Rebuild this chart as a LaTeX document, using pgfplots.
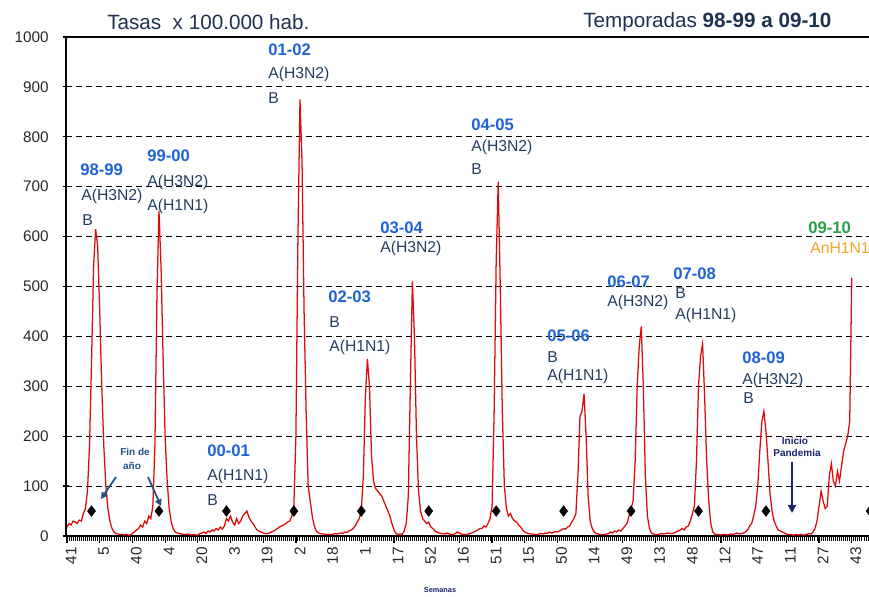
\documentclass[border=0pt]{standalone}
\usepackage{pgfplots}
\pgfplotsset{compat=1.18}
\usepackage{pgfplotstable}
\usepackage{fontspec}
\setmainfont{Liberation Sans}
\usetikzlibrary{arrows.meta}
\definecolor{redline}{RGB}{222,10,10}
\definecolor{seasonblue}{RGB}{30,99,214}
\definecolor{strain}{RGB}{35,60,95}
\definecolor{titlec}{RGB}{30,50,80}
\definecolor{greenlbl}{RGB}{40,160,70}
\definecolor{orangelbl}{RGB}{240,165,40}
\definecolor{arrowc}{RGB}{30,80,130}
\definecolor{navyc}{RGB}{25,35,110}
\definecolor{ticklab}{RGB}{40,40,40}

\pgfplotstableread{
i v
0 18
1 25
2 22
3 30
4 28
5 25
6 32
7 30
8 45
9 55
10 90
11 180
12 350
13 540
14 615
15 580
16 450
17 300
18 180
19 100
20 55
21 30
22 15
23 8
24 5
25 4
26 3
27 3
28 2
29 3
30 2
31 2
32 5
33 8
34 12
35 15
36 22
37 18
38 30
39 25
40 40
41 35
42 60
43 180
44 480
45 652
46 540
47 360
48 200
49 110
50 55
51 28
52 14
53 8
54 6
55 5
56 4
57 3
58 3
59 4
60 3
61 2
62 3
63 2
64 2
65 5
66 6
67 8
68 5
69 10
70 8
71 12
72 10
73 15
74 12
75 18
76 14
77 20
78 35
79 30
80 40
81 28
82 22
83 35
84 25
85 30
86 40
87 45
88 50
89 38
90 30
91 25
92 18
93 12
94 10
95 8
96 6
97 5
98 5
99 6
100 8
101 10
102 12
103 15
104 18
105 20
106 22
107 25
108 28
109 30
110 40
111 60
112 200
113 600
114 875
115 750
116 450
117 250
118 100
119 70
120 40
121 20
122 10
123 6
124 5
125 4
126 4
127 3
128 3
129 3
130 3
131 5
132 4
133 5
134 6
135 5
136 8
137 7
138 10
139 12
140 15
141 20
142 28
143 35
144 50
145 120
146 280
147 355
148 300
149 160
150 110
151 95
152 90
153 85
154 80
155 70
156 60
157 50
158 40
159 25
160 12
161 5
162 3
163 4
164 3
165 10
166 25
167 80
168 300
169 510
170 400
171 200
172 90
173 50
174 35
175 30
176 25
177 28
178 18
179 15
180 10
181 8
182 6
183 5
184 5
185 4
186 6
187 4
188 3
189 3
190 5
191 8
192 6
193 4
194 3
195 3
196 3
197 5
198 6
199 8
200 10
201 12
202 15
203 15
204 20
205 18
206 25
207 35
208 60
209 250
210 550
211 710
212 500
213 250
214 100
215 55
216 40
217 45
218 35
219 30
220 28
221 22
222 18
223 12
224 8
225 6
226 5
227 4
228 4
229 3
230 3
231 4
232 5
233 4
234 6
235 5
236 8
237 6
238 7
239 9
240 8
241 10
242 12
243 15
244 14
245 18
246 20
247 28
248 35
249 45
250 120
251 240
252 250
253 285
254 200
255 80
256 30
257 15
258 8
259 5
260 4
261 3
262 3
263 3
264 4
265 5
266 8
267 6
268 10
269 8
270 12
271 10
272 15
273 20
274 25
275 40
276 55
277 70
278 150
279 300
280 380
281 420
282 300
283 120
284 40
285 15
286 6
287 4
288 3
289 3
290 4
291 5
292 4
293 5
294 6
295 5
296 5
297 6
298 8
299 10
300 12
301 15
302 12
303 18
304 20
305 30
306 45
307 60
308 150
309 300
310 360
311 385
312 280
313 150
314 70
315 25
316 8
317 4
318 3
319 3
320 2
321 3
322 3
323 2
324 3
325 4
326 3
327 5
328 6
329 4
330 5
331 6
332 8
333 12
334 20
335 25
336 40
337 60
338 100
339 170
340 230
341 250
342 210
343 150
344 85
345 50
346 30
347 20
348 12
349 10
350 8
351 6
352 4
353 3
354 3
355 2
356 2
357 3
358 2
359 3
360 2
361 2
362 3
363 5
364 4
365 8
366 15
367 30
368 60
369 90
370 70
371 55
372 60
373 120
374 145
375 110
376 100
377 130
378 110
379 140
380 170
381 185
382 200
383 230
384 518
}\datatable

\pgfplotstableread{
i v
12 50
45 50
78 50
111 50
144 50
177 50
210 50
243 50
276 50
309 50
342 50
393 50
}\diamonds

\newcommand{\seasonlbl}[3]{\node[anchor=west,inner sep=0pt,font=\fontsize{12.5}{14}\selectfont\bfseries,text=seasonblue] at (#1,#2) {#3};}
\newcommand{\strainlbl}[3]{\node[anchor=west,inner sep=0pt,font=\fontsize{11.8}{14}\selectfont,text=strain] at (#1,#2) {#3};}

\begin{document}
\begin{tikzpicture}
\begin{axis}[
  at={(49.5pt,45.75pt)}, anchor=south west,
  scale only axis,
  width=604.5pt, height=374.25pt,
  xmin=-0.5, xmax=393.9,
  ymin=0, ymax=1000,
  xtick={0,16,...,384},
  xticklabels={41,5,40,4,20,3,19,2,18,1,17,52,16,51,15,50,14,49,13,48,12,47,11,27,43},
  minor xtick={0,1,...,393},
  ytick={0,100,...,1000},
  tick pos=left,
  xtick align=outside,
  ytick align=center,
  major tick length=5pt,
  minor tick length=3.5pt,
  every tick/.style={black, line width=0.9pt},
  every minor tick/.style={black, line width=0.75pt},
  axis line style={black, line width=1pt},
  ymajorgrids,
  grid style={black, line width=0.85pt, dash pattern=on 4.5pt off 3pt},
  /pgf/number format/1000 sep={},
  /pgf/number format/assume math mode=true,
  yticklabel style={font=\fontsize{11.5}{13}\selectfont, text=ticklab, xshift=-7pt},
  xticklabel style={rotate=90, anchor=east, font=\fontsize{11.5}{13}\selectfont, text=ticklab, yshift=-3pt},
]
\addplot[redline, line width=0.95pt, no marks] table[x=i, y=v] {\datatable};
\addplot[only marks, mark=diamond*, mark size=4pt, mark options={black, fill=black}] table[x=i, y=v] {\diamonds};
\end{axis}

\begin{scope}[x=0.75pt,y=-0.75pt,yshift=447.75pt]
\node[anchor=west, inner sep=0pt, font=\fontsize{15.5}{18}\selectfont, text=titlec] at (107,22) {Tasas\ \ x 100.000 hab.};
\node[anchor=west, inner sep=0pt, font=\fontsize{15.5}{18}\selectfont, text=titlec] at (583,22) {Temporadas \textbf{98-99 a 09-10}};

\seasonlbl{80}{170}{98-99}
\strainlbl{81}{196}{A(H3N2)}
\strainlbl{82}{220}{B}
\seasonlbl{147}{156}{99-00}
\strainlbl{147}{182}{A(H3N2)}
\strainlbl{147}{206}{A(H1N1)}
\seasonlbl{207}{451}{00-01}
\strainlbl{207}{476}{A(H1N1)}
\strainlbl{207}{500}{B}
\seasonlbl{268}{50}{01-02}
\strainlbl{268}{74}{A(H3N2)}
\strainlbl{268}{98}{B}
\seasonlbl{328}{297}{02-03}
\strainlbl{329}{322}{B}
\strainlbl{329}{347}{A(H1N1)}
\seasonlbl{380}{228}{03-04}
\strainlbl{380}{248}{A(H3N2)}
\seasonlbl{471}{125}{04-05}
\strainlbl{471}{147}{A(H3N2)}
\strainlbl{471}{169}{B}
\seasonlbl{547}{336}{05-06}
\strainlbl{547}{357}{B}
\strainlbl{547}{376}{A(H1N1)}
\seasonlbl{607}{282}{06-07}
\strainlbl{607}{302}{A(H3N2)}
\seasonlbl{673}{274}{07-08}
\strainlbl{675}{293}{B}
\strainlbl{675}{315}{A(H1N1)}
\seasonlbl{742}{358}{08-09}
\strainlbl{742}{380}{A(H3N2)}
\strainlbl{743}{398}{B}
\node[anchor=west,inner sep=0pt,font=\fontsize{12.5}{14}\selectfont\bfseries,text=greenlbl] at (808,228) {09-10};
\node[anchor=west,inner sep=0pt,font=\fontsize{11.8}{14}\selectfont,text=orangelbl] at (810,248) {AnH1N1};

\node[inner sep=0pt, font=\fontsize{7.5}{8}\selectfont\bfseries, text=arrowc] at (135,452) {Fin de};
\node[inner sep=0pt, font=\fontsize{7.5}{8}\selectfont\bfseries, text=arrowc] at (132,466) {año};
\draw[arrowc, line width=1.3pt, -{Triangle[length=5pt,width=5pt]}] (116,477) -- (101,499);
\draw[arrowc, line width=1.3pt, -{Triangle[length=5pt,width=5pt]}] (148,477) -- (161,506);

\node[inner sep=0pt, font=\fontsize{7.5}{8}\selectfont\bfseries, text=navyc] at (795,441) {Inicio};
\node[inner sep=0pt, font=\fontsize{7.5}{8}\selectfont\bfseries, text=navyc] at (797,453) {Pandemia};
\draw[navyc, line width=1.2pt, -{Triangle[length=6pt,width=6pt]}] (792,462) -- (792,513);

\node[inner sep=0pt, font=\fontsize{5.5}{7}\selectfont\bfseries, text=navyc] at (440,590) {Semanas};
\end{scope}

\pgfresetboundingbox
\useasboundingbox (0,0) rectangle (651.75pt,447.75pt);
\end{tikzpicture}
\end{document}
